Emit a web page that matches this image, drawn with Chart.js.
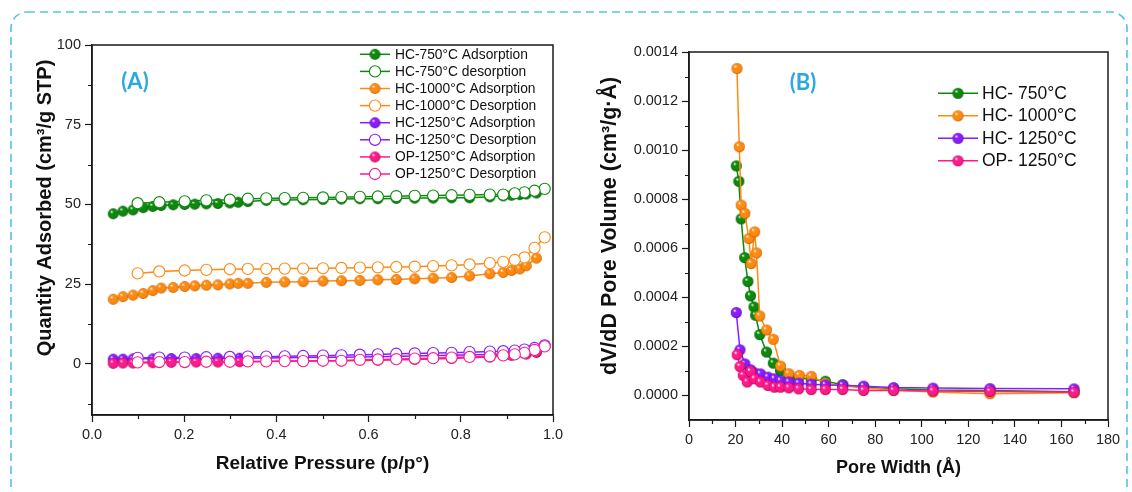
<!DOCTYPE html>
<html>
<head>
<meta charset="utf-8">
<script src="https://cdn.jsdelivr.net/npm/chart.js@4.4.1/dist/chart.umd.min.js"></script>
<style>
  body { margin: 0; background: #fff; }
  #wrap { position: relative; width: 1132px; height: 492px; overflow: hidden; }
  #wrap canvas { position: absolute; top: 0; }
  #isotherm { left: 0; }
  #psd { left: 570px; }
  #frame { position: absolute; left: 0; top: 0; }
</style>
</head>
<body>
<div id="wrap">
  <svg id="frame" width="1132" height="492">
    <rect x="11" y="12" width="1116" height="492" rx="16" fill="none"
          stroke="#52c3ea" stroke-width="1.6" stroke-dasharray="8 5"/>
  </svg>
  <canvas id="isotherm" width="570" height="492"></canvas>
  <canvas id="psd" width="562" height="492"></canvas>
</div>
<script>
// ---- (A) N2 isotherms, relative pressure p/p° ----
const pAds = [0.046, 0.067, 0.089, 0.111, 0.132, 0.150, 0.176, 0.201, 0.223, 0.248, 0.273, 0.299, 0.317, 0.338,
  0.378, 0.418, 0.458, 0.501, 0.541, 0.581, 0.620, 0.660, 0.700, 0.740, 0.780, 0.819, 0.863, 0.892, 0.910, 0.928, 0.942, 0.964];
const pDes = [0.982, 0.960, 0.938, 0.917, 0.892, 0.863, 0.819, 0.780, 0.740, 0.700, 0.660, 0.620, 0.581, 0.541,
  0.501, 0.458, 0.418, 0.378, 0.338, 0.299, 0.248, 0.201, 0.146, 0.099];
const pAds1250 = [0.046, 0.067, 0.089, 0.132, 0.172, 0.226, 0.273, 0.320, 0.378, 0.458, 0.541, 0.620, 0.700, 0.780,
  0.863, 0.910, 0.942, 0.964];

const ads750 = [47.1, 47.9, 48.3, 49.0, 49.4, 49.7, 49.9, 50.0, 50.1, 50.2, 50.3, 50.5, 50.7, 50.9,
  51.3, 51.4, 51.5, 51.6, 51.7, 51.8, 51.8, 51.9, 52.0, 52.0, 52.1, 52.1, 52.4, 52.7, 52.9, 53.1, 53.3, 53.6];
const des750 = [54.9, 54.3, 53.8, 53.5, 53.1, 53.1, 53.0, 52.9, 52.8, 52.7, 52.6, 52.5, 52.4, 52.3,
  52.2, 52.1, 52.0, 51.9, 51.8, 51.5, 51.3, 51.0, 50.7, 50.4];
const ads1000 = [20.3, 21.1, 21.6, 22.1, 23.0, 23.8, 24.0, 24.3, 24.5, 24.7, 24.8, 25.1, 25.3, 25.3,
  25.6, 25.7, 25.8, 26.0, 26.1, 26.2, 26.4, 26.5, 26.7, 26.9, 27.1, 27.6, 28.3, 28.7, 29.3, 29.8, 30.8, 33.2];
const des1000 = [39.7, 36.4, 33.4, 32.6, 32.0, 31.6, 31.2, 30.9, 30.7, 30.5, 30.4, 30.3, 30.2, 30.1,
  30.0, 29.9, 29.9, 29.8, 29.8, 29.7, 29.5, 29.3, 29.0, 28.4];
const ads1250 = [1.5, 1.5, 1.6, 1.6, 1.7, 1.7, 1.8, 1.8, 1.9, 2.0, 2.1, 2.3, 2.5, 2.7, 3.0, 3.3, 3.6, 4.1];
const des1250 = [5.8, 5.0, 4.5, 4.2, 4.0, 3.9, 3.7, 3.5, 3.4, 3.3, 3.2, 3.0, 2.9, 2.7,
  2.6, 2.5, 2.4, 2.3, 2.3, 2.2, 2.1, 2.0, 2.0, 1.9];
const adsOP = [0.2, 0.3, 0.3, 0.4, 0.5, 0.6, 0.6, 0.7, 0.8, 0.9, 1.0, 1.2, 1.4, 1.7, 2.2, 2.7, 3.1, 3.6];
const desOP = [5.5, 4.4, 3.5, 3.0, 2.7, 2.4, 2.2, 2.0, 1.8, 1.7, 1.5, 1.4, 1.3, 1.0,
  1.0, 0.9, 0.9, 0.8, 0.8, 0.7, 0.7, 0.6, 0.6, 0.5];

const pTicks = [0, 0.2, 0.4, 0.6, 0.8, 1.0];
const qTicks = [0, 25, 50, 75, 100];

// ---- (B) pore size distribution, pore width in Å ----
const w750 = [20.3, 21.4, 22.4, 23.9, 25.3, 26.4, 27.9, 28.6, 30.4, 33.3, 36.2, 39.3, 42.9, 47.1, 52.5, 58.6,
  66.0, 75.0, 87.9, 104.8, 129.3, 165.4];
const v750 = [0.000936, 0.000873, 0.00072, 0.000562, 0.000465, 0.000406, 0.000361, 0.000327, 0.000248, 0.000177,
  0.000132, 0.000102, 0.00008, 0.000072, 0.000066, 0.000058, 0.000044, 0.000034, 0.000027, 0.000022, 0.00002, 0.000015];
const w1000 = [20.6, 21.6, 22.4, 24.0, 25.7, 26.7, 28.2, 29.0, 30.4, 33.3, 36.2, 39.3, 42.9, 47.4, 52.5, 58.6,
  66.0, 75.0, 87.9, 104.8, 129.3, 165.4];
const v1000 = [0.001333, 0.001014, 0.000776, 0.000742, 0.00064, 0.000538, 0.000667, 0.000581, 0.000324, 0.000267,
  0.000229, 0.00012, 0.000089, 0.000082, 0.000078, 0.00005, 0.00004, 0.00003, 0.000022, 0.000014, 0.000007, 0.000011];
const w1250 = [20.3, 21.9, 24.0, 26.4, 28.2, 30.7, 33.9, 36.7, 39.3, 42.9, 47.1, 52.5, 58.6, 66.0, 75.0, 87.9,
  104.8, 129.3, 165.4];
const v1250 = [0.000338, 0.000186, 0.000129, 0.000105, 0.000092, 0.000088, 0.000075, 0.000068, 0.00006, 0.000055,
  0.00005, 0.000046, 0.000043, 0.000042, 0.000038, 0.000032, 0.00003, 0.000028, 0.000027];
const wOP = [20.7, 21.9, 23.3, 25.0, 26.4, 28.2, 30.7, 33.9, 36.7, 39.3, 42.9, 47.1, 52.5, 58.6, 66.0, 75.0,
  87.9, 104.8, 129.3, 165.4];
const vOP = [0.000166, 0.000118, 0.000082, 0.000055, 0.000098, 0.000068, 0.000055, 0.000041, 0.000034, 0.000034,
  0.000031, 0.000027, 0.000024, 0.000024, 0.000024, 0.00002, 0.00002, 0.000018, 0.000016, 0.000013];

const wTicks = [0, 20, 40, 60, 80, 100, 120, 140, 160, 180];
const vTicks = [0, 0.0002, 0.0004, 0.0006, 0.0008, 0.0010, 0.0012, 0.0014];

const GREEN = '#0b8a0b', ORANGE = '#ff8a10', PURPLE = '#8a1cff', PINK = '#ff1a8c';
const DARK = { [GREEN]: '#045204', [ORANGE]: '#b85a00', [PURPLE]: '#4a0099', [PINK]: '#a0004e' };

Chart.defaults.font.family = '"Liberation Sans", Arial, sans-serif';
Chart.defaults.color = '#222';

// shaded sphere used for the filled symbols
function ball(color, r) {
  const c = document.createElement('canvas');
  const s = Math.ceil(r * 2 + 2);
  c.width = c.height = s;
  const g = c.getContext('2d');
  const m = s / 2;
  const grad = g.createRadialGradient(m - r * 0.35, m - r * 0.4, r * 0.05, m, m, r);
  grad.addColorStop(0, '#ffffff');
  grad.addColorStop(0.28, color);
  grad.addColorStop(0.8, color);
  grad.addColorStop(1, DARK[color]);
  g.fillStyle = grad;
  g.beginPath();
  g.arc(m, m, r, 0, Math.PI * 2);
  g.fill();
  return c;
}

const xy = (xs, ys) => xs.map((x, i) => ({ x: x, y: ys[i] }));

function filled(label, xs, ys, color, order, r) {
  return { label, data: xy(xs, ys), borderColor: color, backgroundColor: color, borderWidth: 1.5,
    pointStyle: ball(color, r), order };
}
function hollow(label, xs, ys, color, order) {
  return { label, data: xy(xs, ys), borderColor: color, backgroundColor: '#fff', borderWidth: 1.5,
    pointStyle: 'circle', pointRadius: 5.6, pointBackgroundColor: '#fff', pointBorderColor: color,
    pointBorderWidth: 1.1, order };
}

// plot box, short minor ticks, in-plot legend and free text
const originFrame = {
  id: 'originFrame',
  afterDraw(chart, args, opts) {
    const { ctx, chartArea: a } = chart;
    ctx.save();
    ctx.strokeStyle = '#1a1a1a';
    ctx.lineWidth = 1.5;
    ctx.strokeRect(a.left, a.top, a.right - a.left, a.bottom - a.top);

    ctx.lineWidth = 1.2;
    const mids = s => {
      const t = s.ticks.map(k => k.value);
      const d = (t[1] - t[0]) / 2, out = [];
      for (let v = t[0] - d; v < s.max; v += 2 * d) if (v > s.min) out.push(v);
      return out;
    };
    ctx.beginPath();
    mids(chart.scales.x).forEach(v => {
      const px = Math.round(chart.scales.x.getPixelForValue(v)) + 0.5;
      ctx.moveTo(px, a.bottom); ctx.lineTo(px, a.bottom + 4);
    });
    mids(chart.scales.y).forEach(v => {
      const py = Math.round(chart.scales.y.getPixelForValue(v)) + 0.5;
      ctx.moveTo(a.left - 4, py); ctx.lineTo(a.left, py);
    });
    ctx.stroke();

    const lg = opts.legend;
    ctx.font = lg.font;
    ctx.textBaseline = 'middle';
    ctx.textAlign = 'left';
    chart.data.datasets.forEach((ds, i) => {
      const y = lg.y0 + i * lg.dy;
      ctx.strokeStyle = ds.borderColor;
      ctx.lineWidth = 1.5;
      ctx.beginPath(); ctx.moveTo(lg.x0, y); ctx.lineTo(lg.x1, y); ctx.stroke();
      const mx = (lg.x0 + lg.x1) / 2;
      if (ds.pointStyle instanceof HTMLCanvasElement) {
        ctx.drawImage(ds.pointStyle, mx - ds.pointStyle.width / 2, y - ds.pointStyle.height / 2);
      } else {
        ctx.fillStyle = '#fff';
        ctx.lineWidth = 1.1;
        ctx.beginPath(); ctx.arc(mx, y, 5.6, 0, Math.PI * 2); ctx.fill(); ctx.stroke();
      }
      ctx.fillStyle = '#111';
      ctx.fillText(ds.label, lg.textX, y + 0.5);
    });

    (opts.texts || []).forEach(t => {
      ctx.save();
      ctx.translate(t.x, t.y);
      ctx.rotate(t.rot || 0);
      ctx.font = t.font;
      ctx.fillStyle = t.color;
      ctx.textAlign = 'center';
      ctx.textBaseline = 'middle';
      ctx.fillText(t.text, 0, 0);
      ctx.restore();
    });
    ctx.restore();
  }
};

function axis(min, max, ticks, fmt, fit, title) {
  return {
    type: 'linear', min, max, bounds: 'data',
    afterBuildTicks: s => { s.ticks = ticks.map(v => ({ value: v })); },
    afterFit: fit,
    ticks: { callback: fmt, font: { size: 14.5 }, color: '#222', padding: 4, maxRotation: 0, autoSkip: false },
    grid: { drawOnChartArea: false, tickLength: 7, tickColor: '#1a1a1a', tickWidth: 1.2 },
    border: { color: '#1a1a1a', width: 1.5 },
    title: title || { display: false }
  };
}

new Chart(document.getElementById('isotherm'), {
  type: 'scatter',
  data: {
    datasets: [
      filled('HC-750°C Adsorption', pAds, ads750, GREEN, 8, 5.4),
      hollow('HC-750°C desorption', pDes, des750, GREEN, 4),
      filled('HC-1000°C Adsorption', pAds, ads1000, ORANGE, 7, 5.4),
      hollow('HC-1000°C Desorption', pDes, des1000, ORANGE, 3),
      filled('HC-1250°C Adsorption', pAds1250, ads1250, PURPLE, 6, 5.4),
      hollow('HC-1250°C Desorption', pDes, des1250, PURPLE, 2),
      filled('OP-1250°C Adsorption', pAds1250, adsOP, PINK, 5, 5.4),
      hollow('OP-1250°C Desorption', pDes, desOP, PINK, 1)
    ]
  },
  options: {
    responsive: false,
    animation: false,
    showLine: true,
    layout: { padding: { top: 45, right: 17, left: 0, bottom: 0 } },
    scales: {
      x: axis(0, 1, pTicks, v => v.toFixed(1), s => { s.height = 77; },
        { display: true, text: 'Relative Pressure (p/p°)', color: '#111',
          font: { size: 19, weight: 'bold' }, padding: { top: 0, bottom: 17 } }),
      y: axis(-16, 100, qTicks, v => v, s => { s.width = 92; })
    },
    plugins: {
      legend: { display: false },
      tooltip: { enabled: false },
      originFrame: {
        legend: { x0: 360, x1: 390, textX: 395, y0: 54.3, dy: 17.1, font: '13.8px "Liberation Sans", Arial, sans-serif' },
        texts: [
          { text: 'Quantity Adsorbed (cm³/g STP)', x: 45, y: 208, rot: -Math.PI / 2,
            font: 'bold 20px "Liberation Sans", Arial, sans-serif', color: '#111' },
          { text: '(A)', x: 135, y: 82, font: 'bold 22px Lato, "Open Sans", sans-serif', color: '#2aa8e2' }
        ]
      }
    }
  },
  plugins: [originFrame]
});

new Chart(document.getElementById('psd'), {
  type: 'scatter',
  data: {
    datasets: [
      filled('HC- 750°C', w750, v750, GREEN, 4, 5.5),
      filled('HC- 1000°C', w1000, v1000, ORANGE, 3, 5.5),
      filled('HC- 1250°C', w1250, v1250, PURPLE, 2, 5.5),
      filled('OP- 1250°C', wOP, vOP, PINK, 1, 5.5)
    ]
  },
  options: {
    responsive: false,
    animation: false,
    showLine: true,
    layout: { padding: { top: 52, right: 24, left: 0, bottom: 0 } },
    scales: {
      x: axis(0, 180, wTicks, v => v, s => { s.height = 72; },
        { display: true, text: 'Pore Width (Å)', color: '#111',
          font: { size: 18, weight: 'bold' }, padding: { top: 0, bottom: 13 } }),
      y: axis(-0.0001, 0.0014, vTicks, v => v.toFixed(4), s => { s.width = 119; })
    },
    plugins: {
      legend: { display: false },
      tooltip: { enabled: false },
      originFrame: {
        legend: { x0: 368, x1: 408, textX: 412, y0: 93.3, dy: 22.5, font: '17.5px "Liberation Sans", Arial, sans-serif' },
        texts: [
          { text: 'dV/dD Pore Volume (cm³/g·Å)', x: 40, y: 226, rot: -Math.PI / 2,
            font: 'bold 21.5px "Liberation Sans", Arial, sans-serif', color: '#111' },
          { text: '(B)', x: 233, y: 83, font: 'bold 22px Lato, "Open Sans", sans-serif', color: '#2aa8e2' }
        ]
      }
    }
  },
  plugins: [originFrame]
});
</script>
</body>
</html>
